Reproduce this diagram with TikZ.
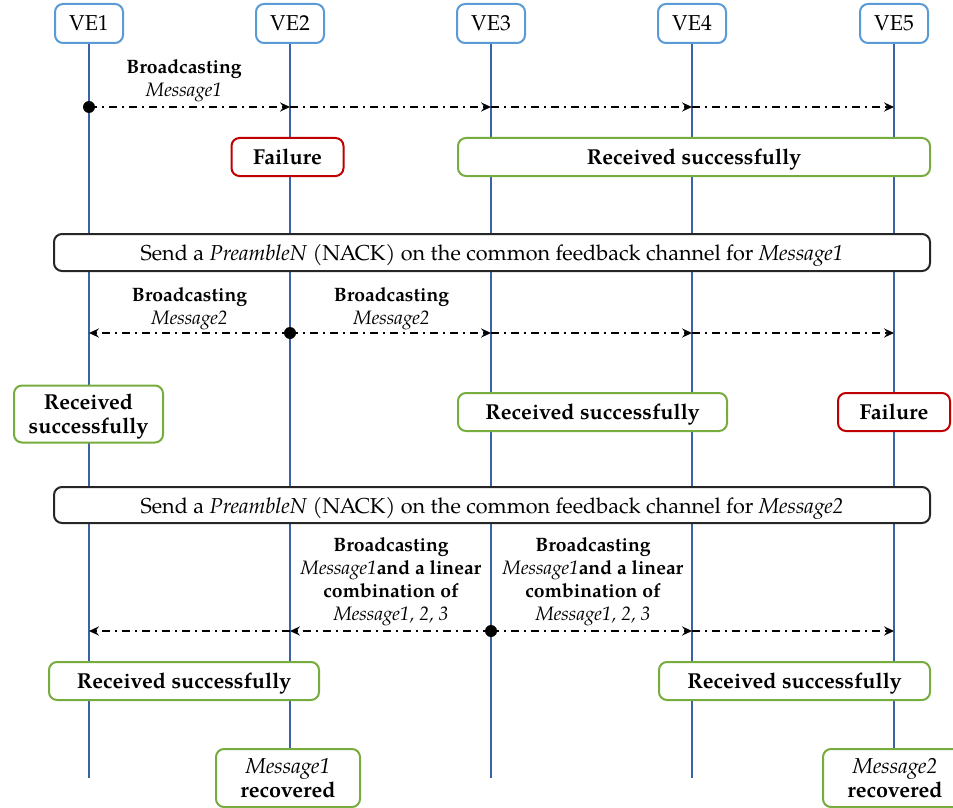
\documentclass[tikz,border=0pt]{standalone}
\usepackage{fontspec}
\setmainfont{TeX Gyre Pagella}
\usetikzlibrary{arrows.meta}
\definecolor{hdrblue}{HTML}{5B9BD5}
\definecolor{lifeblue}{HTML}{3A62A7}
\definecolor{okgreen}{HTML}{77AC3F}
\definecolor{failred}{HTML}{C00000}
\tikzset{
  txt/.style={font=\fontsize{10.8}{12}\selectfont},
  box/.style={draw, rounded corners=4pt, line width=1pt, inner sep=0pt,
    align=center, fill=white, text depth=0pt, txt},
  header/.style={box, draw=hdrblue, minimum width=34pt, minimum height=19.5pt},
  okbox/.style={box, draw=okgreen, font=\fontsize{10.8}{12}\selectfont\bfseries},
  failbox/.style={box, draw=failred, font=\fontsize{10.8}{12}\selectfont\bfseries,
    minimum width=56pt, minimum height=19pt},
  sendbox/.style={box, draw=black!85, minimum width=438pt},
  lifeline/.style={draw=lifeblue, line width=1pt},
  msg/.style={line width=1pt, dash pattern=on 4pt off 2.5pt on 1pt off 2.5pt,
    -{Stealth[length=5pt, width=4.6pt, inset=1.8pt]}},
  lbl/.style={font=\fontsize{9.7}{11.5}\selectfont, align=center, inner sep=0pt},
  srcdot/.style={fill=black},
}
\begin{document}
\begin{tikzpicture}[x=0.5pt, y=-0.5pt]
\useasboundingbox (0,0) rectangle (953,808);
\clip (0,0) rectangle (953,808);

% participants
\node[header] (h1) at (89,23.5)  {VE1};
\node[header] (h2) at (290,23.5) {VE2};
\node[header] (h3) at (491,23.5) {VE3};
\node[header] (h4) at (692,23.5) {VE4};
\node[header] (h5) at (894,23.5) {VE5};

% lifeline ends
\coordinate (e1) at (89,778);
\coordinate (e3) at (491,778);
\coordinate (e4) at (692,778);
\coordinate (t2) at (290,748);
\coordinate (t5) at (894,748);

% lifelines
\draw[lifeline] (h1.south) -- (e1);
\draw[lifeline] (h2.south) -- (t2);
\draw[lifeline] (h3.south) -- (e3);
\draw[lifeline] (h4.south) -- (e4);
\draw[lifeline] (h5.south) -- (t5);

% recovered notes at the bottom
\node[okbox, minimum width=72pt, minimum height=29pt] (m1) at (288,778)
  {\normalfont\itshape Message1\\recovered};
\node[okbox, minimum width=72pt, minimum height=29pt] (m2) at (895,778)
  {\normalfont\itshape Message2\\recovered};

% ---- first broadcast: VE1 sends Message1
\coordinate (a1) at (89,107);
\coordinate (a2) at (290,107);
\coordinate (a3) at (491,107);
\coordinate (a4) at (692,107);
\coordinate (a5) at (894,107);
\node[lbl] (l1) at (184,81) {\textbf{Broadcasting}\\\textit{Message1}};
\draw[msg] (a1) -- (a2);
\draw[msg] (a2) -- (a3);
\draw[msg] (a3) -- (a4);
\draw[msg] (a4) -- (a5);
\fill[srcdot] (a1) circle (3pt);

\node[failbox] (f1) at (287.5,157) {Failure};
\node[okbox, minimum width=236pt, minimum height=19pt] (r1) at (694,157)
  {Received successfully};

\node[sendbox, minimum height=18.5pt] (s1) at (492,252.5)
  {Send a \textit{PreambleN} (NACK) on the common feedback channel for \textit{Message1}};

% ---- second broadcast: VE2 sends Message2
\coordinate (b1) at (89,333);
\coordinate (b2) at (290,333);
\coordinate (b3) at (491,333);
\coordinate (b4) at (692,333);
\coordinate (b5) at (894,333);
\node[lbl] (l2) at (189.5,309) {\textbf{Broadcasting}\\\textit{Message2}};
\node[lbl] (l3) at (391.5,309) {\textbf{Broadcasting}\\\textit{Message2}};
\draw[msg] (b2) -- (b1);
\draw[msg] (b2) -- (b3);
\draw[msg] (b3) -- (b4);
\draw[msg] (b4) -- (b5);
\fill[srcdot] (b2) circle (3pt);

\node[okbox, minimum width=74.5pt, minimum height=28.5pt] (r2) at (88.5,414)
  {Received\\successfully};
\node[okbox, minimum width=134.5pt, minimum height=19pt] (r3) at (592.5,412)
  {Received successfully};
\node[failbox] (f2) at (894,412) {Failure};

\node[sendbox, minimum height=18pt] (s2) at (492,505)
  {Send a \textit{PreambleN} (NACK) on the common feedback channel for \textit{Message2}};

% ---- third broadcast: VE3 sends the coded combination
\coordinate (c1) at (89,631);
\coordinate (c2) at (290,631);
\coordinate (c3) at (491,631);
\coordinate (c4) at (692,631);
\coordinate (c5) at (894,631);
\node[lbl] (l4) at (391,581.5)
  {\textbf{Broadcasting}\\\textit{Message1}\textbf{and a linear}\\\textbf{combination of}\\\textit{Message1, 2, 3}};
\node[lbl] (l5) at (593,581.5)
  {\textbf{Broadcasting}\\\textit{Message1}\textbf{and a linear}\\\textbf{combination of}\\\textit{Message1, 2, 3}};
\draw[msg] (c3) -- (c2);
\draw[msg] (c2) -- (c1);
\draw[msg] (c3) -- (c4);
\draw[msg] (c4) -- (c5);
\fill[srcdot] (c3) circle (3pt);

\node[okbox, minimum width=135pt, minimum height=19pt] (r4) at (184,681)
  {Received successfully};
\node[okbox, minimum width=135.5pt, minimum height=19pt] (r5) at (794.5,681)
  {Received successfully};
\end{tikzpicture}
\end{document}
